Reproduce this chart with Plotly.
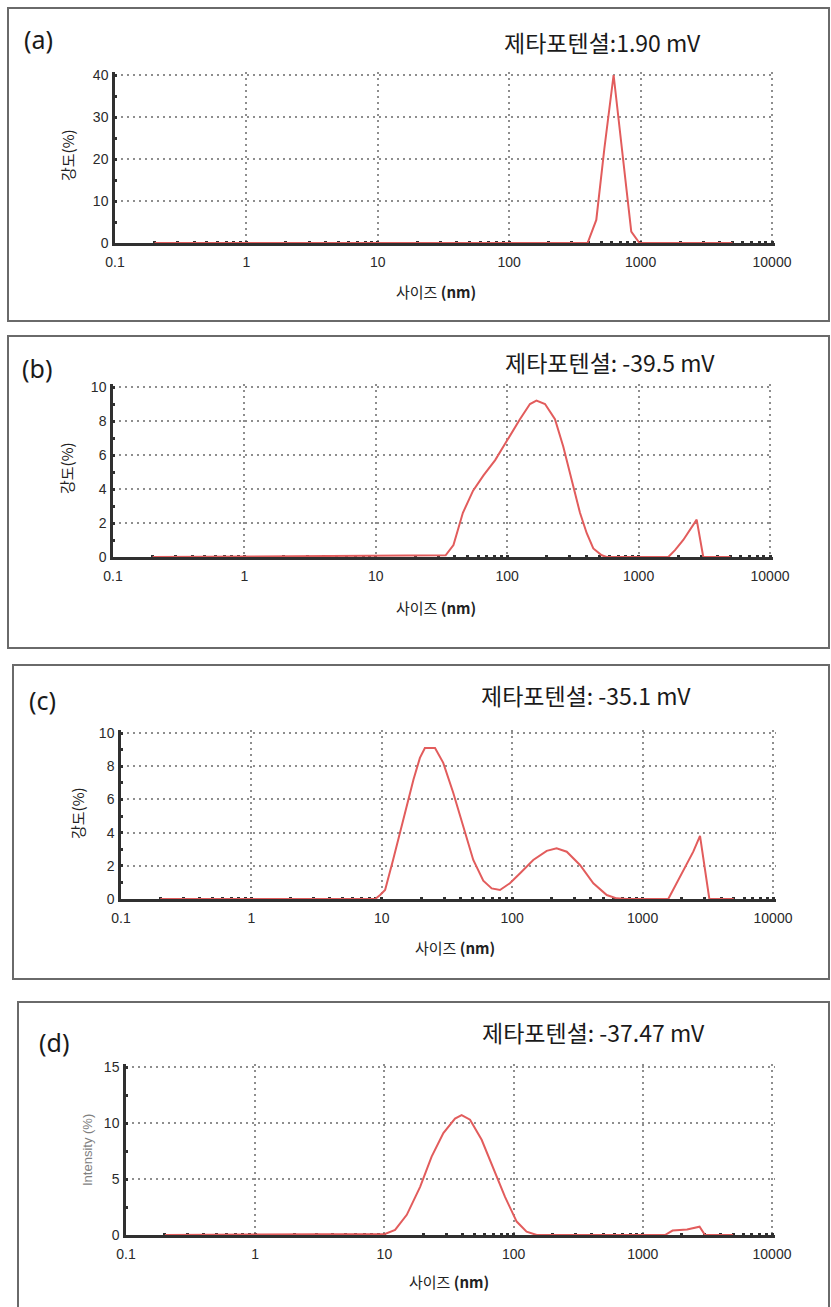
import plotly.graph_objects as go

W, H = 831, 1307

# ---------------- data ----------------
tick_vals_x = [0.1, 1, 10, 100, 1000, 10000]
tick_text_x = ["0.1", "1", "10", "100", "1000", "10000"]

panel_labels = ["(a)", "(b)", "(c)", "(d)"]
zeta_titles = ["제타포텐셜:1.90 mV", "제타포텐셜: -39.5 mV",
               "제타포텐셜: -35.1 mV", "제타포텐셜: -37.47 mV"]
y_titles = ["강도(%)", "강도(%)", "강도(%)", "Intensity (%)"]
x_title = "사이즈 <b>(nm)</b>"

y_max = [40, 10, 10, 15]
y_major = [[0, 10, 20, 30, 40], [0, 2, 4, 6, 8, 10], [0, 2, 4, 6, 8, 10], [0, 5, 10, 15]]
y_minor = [[5, 15, 25, 35], [1, 3, 5, 7, 9], [1, 3, 5, 7, 9], [2.5, 7.5, 12.5]]

size_a = [0.2, 395, 460, 530, 623, 730, 849, 980, 5000]
int_a = [0, 0, 5.5, 22.5, 40, 21, 2.7, 0, 0]

size_b = [0.2, 34, 39, 46, 55, 66, 81, 100, 125, 149, 167, 194, 231, 267, 310,
          358, 403, 452, 524, 571, 1683, 1893, 2188, 2767, 3105, 5000]
int_b = [0, 0.1, 0.7, 2.6, 3.9, 4.8, 5.7, 6.9, 8.1, 9.0, 9.2, 9.0, 8.1, 6.5, 4.5,
         2.6, 1.4, 0.5, 0.1, 0, 0, 0.4, 1.0, 2.2, 0, 0]

size_c = [0.2, 8.9, 9.7, 10.6, 12.2, 14.6, 17.5, 19.6, 21.4, 25.6, 29.6, 35.3, 42.2,
          50.3, 60, 69.6, 80.6, 96, 115, 145, 184, 219, 262, 331, 419, 531, 632, 750,
          1574, 2051, 2447, 2756, 3250, 5000]
int_c = [0, 0, 0.24, 0.54, 2.35, 4.8, 7.2, 8.5, 9.1, 9.1, 8.2, 6.4, 4.4,
         2.35, 1.1, 0.64, 0.54, 0.95, 1.55, 2.35, 2.9, 3.05, 2.85, 2.05, 0.95, 0.24, 0.04, 0,
         0, 1.75, 2.85, 3.8, 0, 0]

size_d = [0.2, 10.1, 12.1, 14.9, 18.9, 23.2, 28.6, 35.2, 39.6, 46, 56.6, 69.7, 85.8,
          105.6, 126, 151, 1486, 1700, 2200, 2750, 3030, 5000]
int_d = [0, 0.1, 0.45, 1.8, 4.3, 7.0, 9.1, 10.4, 10.7, 10.3, 8.5, 6.0, 3.4,
         1.2, 0.3, 0, 0, 0.4, 0.5, 0.74, 0, 0]

sizes = [size_a, size_b, size_c, size_d]
intens = [int_a, int_b, int_c, int_d]

# ---------------- layout geometry (pixels) ----------------
plot_boxes = [  # x0 (0.1), x1 (10000), ytop (max), ybottom (0)
    (115, 772, 75, 243),
    (113, 770, 387, 557),
    (121, 773, 733, 899),
    (126, 772, 1067, 1235),
]
frames = [  # x0, y0, x1, y1
    (8, 8, 829, 321),
    (8, 336, 829, 648),
    (13, 665, 829, 979),
    (18, 1002, 829, 1320),
]
label_pos = [(38, 39), (37, 368), (42, 700), (54, 1042)]
title_pos = [(602, 42), (610, 362), (586, 695), (593, 1032)]
xtitle_pos = [(436, 291), (436, 608), (455, 947), (449, 1281)]
ytitle_pos = [(68, 155), (66, 468), (77, 813), (87, 1150)]

PAD = 3  # extra pixels so edge gridlines are not clipped

RED = "#e25c5c"
AXC = "#303030"
GRIDC = "#8e8e8e"


def px(x):
    return x / W


def py(y):
    return 1 - y / H


minor_x = [m * 10 ** e for e in range(-1, 4) for m in range(2, 10)]
tickfont = dict(family="Liberation Sans, Arial", size=14, color="#2a2a2a")

fig = go.Figure()
annotations = []
shapes = []

for i in range(4):
    n = "" if i == 0 else str(i + 1)
    x0, x1, yt, yb = plot_boxes[i]
    dec_px = (x1 - x0) / 5.0
    xr_hi = 4 + PAD / dec_px
    yr_hi = y_max[i] * (1 + PAD / (yb - yt))
    fig.add_trace(go.Scatter(
        x=sizes[i], y=intens[i], mode="lines",
        line=dict(color=RED, width=2),
        xaxis="x" + n, yaxis="y" + n, showlegend=False, hoverinfo="skip"))

    fig.layout["xaxis" + n] = dict(
        type="log", range=[-1, xr_hi], domain=[px(x0), px(x1 + PAD)], anchor="y" + n,
        tickmode="array", tickvals=tick_vals_x, ticktext=tick_text_x, automargin=False,
        showgrid=True, gridcolor=GRIDC, griddash="2px,4px", gridwidth=1.5,
        showline=True, linecolor=AXC, linewidth=2.5, zeroline=False,
        ticks="inside", ticklen=2, tickwidth=3, tickcolor=AXC,
        ticklabelstandoff=4,
        minor=dict(tickmode="array", tickvals=minor_x, ticks="inside", ticklen=2,
                   tickwidth=3, tickcolor=AXC, showgrid=False),
        tickfont=tickfont, layer="below traces", fixedrange=True)
    fig.layout["yaxis" + n] = dict(
        range=[0, yr_hi], domain=[py(yb), py(yt - PAD)], anchor="x" + n,
        tickmode="array", tickvals=y_major[i], automargin=False,
        showgrid=True, gridcolor=GRIDC, griddash="2px,4px", gridwidth=1.5,
        showline=True, linecolor=AXC, linewidth=2.5, zeroline=False,
        ticks="inside", ticklen=2, tickwidth=3, tickcolor=AXC,
        ticklabelstandoff=1,
        minor=dict(tickmode="array", tickvals=y_minor[i], ticks="inside", ticklen=2,
                   tickwidth=3, tickcolor=AXC, showgrid=False),
        tickfont=tickfont, layer="below traces", fixedrange=True)

    fx0, fy0, fx1, fy1 = frames[i]
    shapes.append(dict(type="rect", xref="paper", yref="paper",
                       x0=px(fx0), x1=px(fx1), y0=py(fy1), y1=py(fy0),
                       line=dict(color="#6a6a6a", width=2)))

    lx, ly = label_pos[i]
    annotations.append(dict(text=panel_labels[i], x=px(lx), y=py(ly), xref="paper", yref="paper",
                            showarrow=False, xanchor="center", yanchor="middle",
                            font=dict(family="Noto Sans", size=25, color="#1a1a1a")))
    tx, ty = title_pos[i]
    annotations.append(dict(text=zeta_titles[i], x=px(tx), y=py(ty), xref="paper", yref="paper",
                            showarrow=False, xanchor="center", yanchor="middle",
                            font=dict(family="Noto Sans CJK KR", size=23, color="#1a1a1a")))
    xx, xy = xtitle_pos[i]
    annotations.append(dict(text=x_title, x=px(xx), y=py(xy), xref="paper", yref="paper",
                            showarrow=False, xanchor="center", yanchor="middle",
                            font=dict(family="Noto Sans CJK KR", size=15, color="#222")))
    yx, yy = ytitle_pos[i]
    if i < 3:
        yfont = dict(family="Noto Sans CJK KR", size=15, color="#222")
    else:
        yfont = dict(family="Liberation Sans, Arial", size=13, color="#808080")
    annotations.append(dict(text=y_titles[i], x=px(yx), y=py(yy), xref="paper", yref="paper",
                            showarrow=False, xanchor="center", yanchor="middle", textangle=-90,
                            font=yfont))

fig.update_layout(
    template="none",
    width=W, height=H, margin=dict(l=0, r=0, t=0, b=0, pad=0, autoexpand=False),
    paper_bgcolor="white", plot_bgcolor="white",
    shapes=shapes, annotations=annotations, showlegend=False)

fig.write_html("out.html", config={"displayModeBar": False},
               post_script="document.body.style.margin='0';document.body.style.overflow='hidden';")
